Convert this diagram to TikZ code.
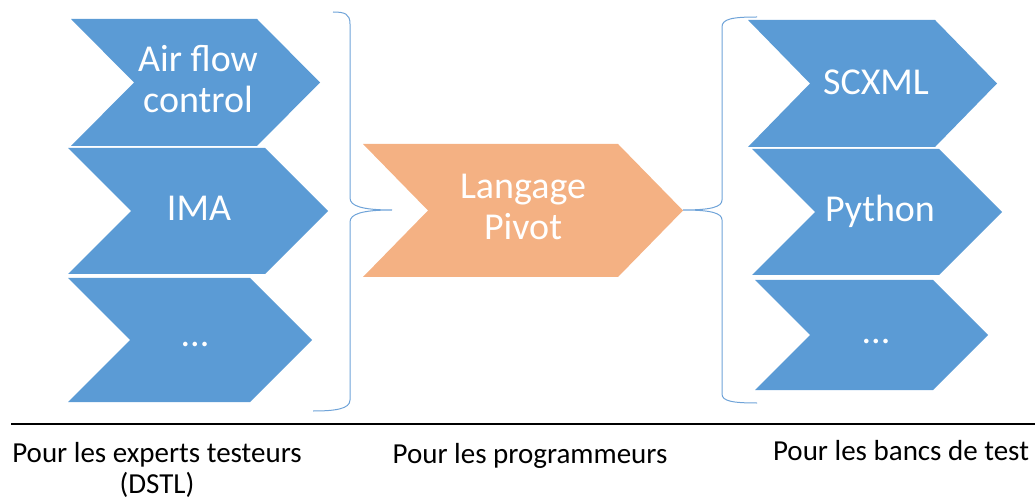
\documentclass[tikz,border=0pt]{standalone}
\usepackage{fontspec}
\setmainfont{Carlito}
\definecolor{chevblue}{HTML}{5B9BD5}
\definecolor{chevorange}{HTML}{F4B183}
\definecolor{bracecol}{HTML}{6FA3D8}
% chevron: fill colour, left x, top y, tip x, bottom y, point depth
\newcommand\chevronshape[6]{%
  \fill[#1] (#2,#3) -- ({#4-#6},#3) -- (#4,{(#3+#5)/2}) -- ({#4-#6},#5)
    -- (#2,#5) -- ({#2+#6},{(#3+#5)/2}) -- cycle;}
\begin{document}
\begin{tikzpicture}[x=1pt,y=-1pt,
  chevtext/.style={text=white,font=\fontsize{38}{41}\selectfont,align=center,
    inner sep=0pt,anchor=base},
  caption/.style={text=black,font=\fontsize{29}{31}\selectfont,align=center,
    inner sep=0pt,anchor=base},
  bracket/.style={draw=bracecol,line width=1pt}]
\useasboundingbox (0,0) rectangle (1035,502);

% left column
\chevronshape{chevblue}{71}{19}{320}{146}{63}
\chevronshape{chevblue}{68}{148}{328}{274}{63}
\chevronshape{chevblue}{68}{278}{312}{402}{62}
% the base anchor of a two-line node sits on its last line
\node[chevtext] (airflow) at (198,113) {Air flow\\control};
\node[chevtext] (ima) at (199,221) {IMA};
\node[chevtext] (leftmore) at (195,346) {...};

% centre
\chevronshape{chevorange}{363}{144}{683}{277}{65}
\node[chevtext] (pivot) at (523,240) {Langage\\Pivot};

% right column
\chevronshape{chevblue}{748}{20}{997}{147}{62}
\chevronshape{chevblue}{752}{149}{1002}{275}{63}
\chevronshape{chevblue}{755}{280}{988}{390}{55}
\node[chevtext] (scxml) at (876,95) {SCXML};
\node[chevtext] (python) at (880,222) {Python};
\node[chevtext] (rightmore) at (876,343) {...};

% braces
\coordinate (lbtip) at (392,210);
\coordinate (rbtip) at (683,210);
\draw[bracket] (333,12) .. controls (345,12) and (350,14) .. (350,24)
  -- (350,198) .. controls (350,206) and (362,210) .. (lbtip)
  .. controls (362,210) and (350,214) .. (350,222)
  -- (350,400) .. controls (350,409) and (335,411) .. (313,411);
\draw[bracket] (757,17) .. controls (732,17) and (722,19) .. (722,27)
  -- (722,200) .. controls (722,207) and (711,210) .. (rbtip)
  .. controls (711,210) and (722,213) .. (722,220)
  -- (722,394) .. controls (722,401) and (732,403) .. (757,403);

% separator and captions
\draw[line width=2.5pt,black] (11,424) -- (1035,424);
\node[caption] (experts) at (157,493) {Pour les experts testeurs\\(DSTL)};
\node[caption] (progs) at (530,463) {Pour les programmeurs};
\node[caption] (bancs) at (901,460) {Pour les bancs de test};
\end{tikzpicture}
\end{document}
